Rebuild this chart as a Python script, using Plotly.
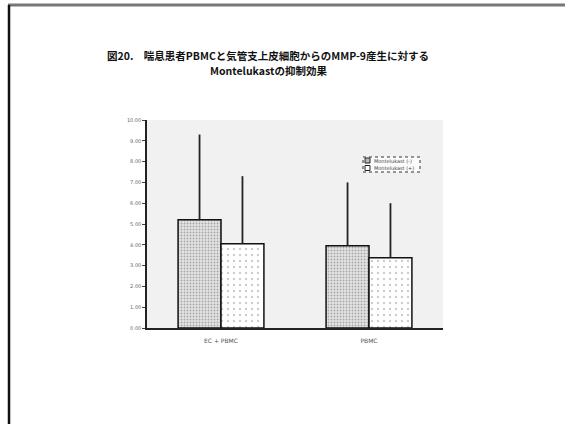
import plotly.graph_objects as go

# Data: MMP-9 production, mean and upper SD
categories = ["EC + PBMC", "PBMC"]
series_names = ["Montelukast (-)", "Montelukast (+)"]
means_minus = [5.20, 3.96]
means_plus = [4.05, 3.38]
sd_minus = [4.10, 3.04]
sd_plus = [3.25, 2.62]
y_ticks = [0, 1, 2, 3, 4, 5, 6, 7, 8, 9, 10]

W, H = 565, 424
L, R, T, B = 147, 122, 120, 96
PW, PH = W - L - R, H - T - B


def px(x):
    return (x - L) / PW


def py(y):
    return (H - B - y) / PH


styles = [
    dict(color="#d9d9d9", line=dict(color="#111111", width=1.5),
         pattern=dict(shape=".", fgcolor="#666666", bgcolor="#e4e4e4",
                      size=3, solidity=0.3)),
    dict(color="white", line=dict(color="#111111", width=1.5),
         pattern=dict(shape=".", fgcolor="#999999", bgcolor="white",
                      size=6, solidity=0.12)),
]

fig = go.Figure()
for name, vals, sds, st in zip(series_names, [means_minus, means_plus],
                               [sd_minus, sd_plus], styles):
    fig.add_trace(go.Bar(
        name=name, x=categories, y=vals, marker=st,
        error_y=dict(type="data", symmetric=False, array=sds,
                     arrayminus=[0] * len(sds), color="#222222",
                     thickness=1.8, width=0),
    ))

fig.update_layout(
    width=W, height=H,
    margin=dict(l=L, r=R, t=T, b=B),
    paper_bgcolor="white",
    plot_bgcolor="#f1f1f1",
    barmode="group",
    bargap=0.42,
    bargroupgap=0,
    showlegend=False,
    font=dict(family="DejaVu Sans"),
)

title_font = dict(family="Noto Sans CJK JP", size=10.5, color="#111111", weight="bold")
fig.add_annotation(text="図20.　喘息患者PBMCと気管支上皮細胞からのMMP-9産生に対する",
                   xref="paper", yref="paper", x=px(268), y=py(55),
                   xanchor="center", yanchor="middle", showarrow=False,
                   font=title_font)
fig.add_annotation(text="Montelukastの抑制効果",
                   xref="paper", yref="paper", x=px(268), y=py(71),
                   xanchor="center", yanchor="middle", showarrow=False,
                   font=title_font)

fig.update_xaxes(
    showline=True, linecolor="#222222", linewidth=1.5,
    showgrid=False, ticks="", ticklabelstandoff=6,
    tickfont=dict(size=6, color="#555555"),
    range=[-0.5, 1.5],
)
fig.update_yaxes(
    range=[0, 10], tickvals=y_ticks, tickformat=".2f",
    showline=True, linecolor="#222222", linewidth=1.5,
    showgrid=False, ticks="outside", ticklen=3, tickcolor="#444444",
    tickfont=dict(size=5, color="#666666"),
    zeroline=False,
)

# Compact legend box
fig.add_shape(type="rect", xref="paper", yref="paper",
              x0=px(363), x1=px(420), y0=py(157), y1=py(172),
              line=dict(color="#333333", width=1, dash="dot"),
              fillcolor="rgba(255,255,255,0.7)")
for i, (name, st) in enumerate(zip(series_names, styles)):
    yc = 160.5 + i * 7.5
    fig.add_shape(type="rect", xref="paper", yref="paper",
                  x0=px(365), x1=px(370), y0=py(yc - 2.5), y1=py(yc + 2.5),
                  line=dict(color="#222222", width=1),
                  fillcolor="#bbbbbb" if i == 0 else "white")
    fig.add_annotation(text=name, xref="paper", yref="paper",
                       x=px(372), y=py(yc), xanchor="left", yanchor="middle",
                       showarrow=False,
                       font=dict(size=5, color="#444444", family="DejaVu Sans"))

# Page frame: top rule and left rule
fig.add_shape(type="line", xref="paper", yref="paper",
              x0=px(8), x1=px(565), y0=py(5), y1=py(5),
              line=dict(color="#777777", width=3))
fig.add_shape(type="line", xref="paper", yref="paper",
              x0=px(9), x1=px(9), y0=py(5), y1=py(424),
              line=dict(color="#111111", width=2.5))

fig.write_html("out.html")
